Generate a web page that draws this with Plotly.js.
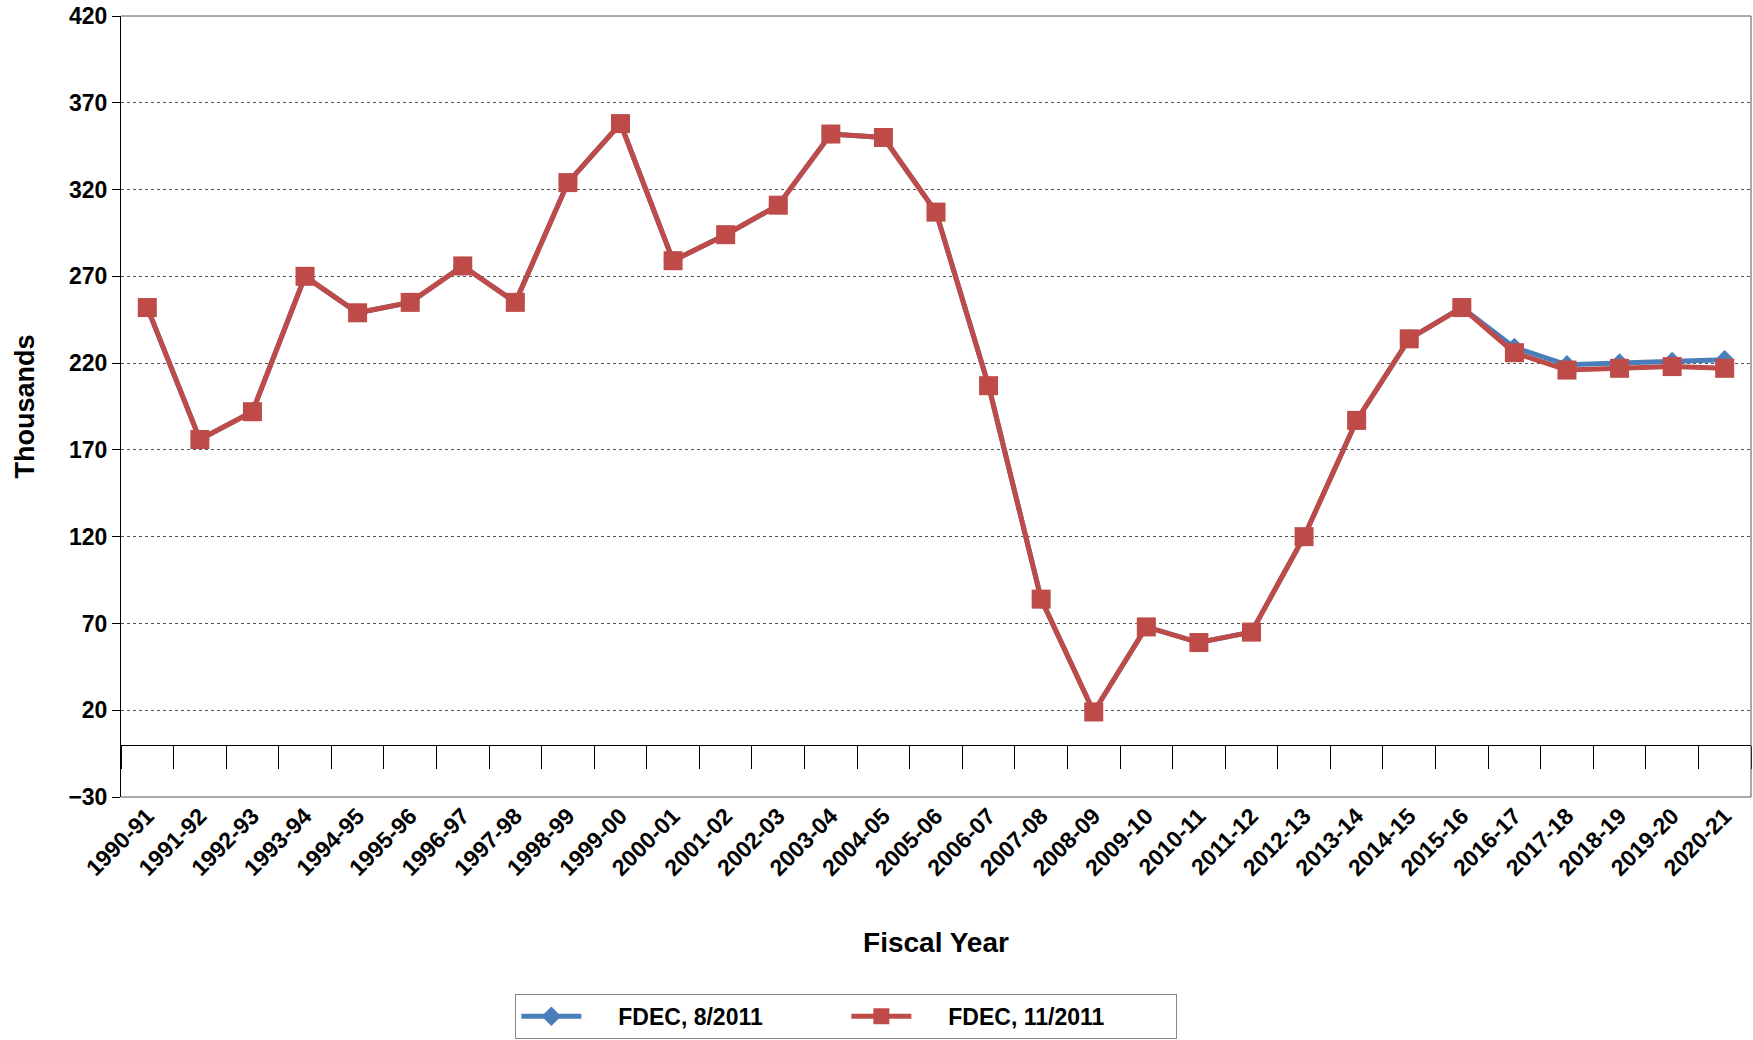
<!DOCTYPE html>
<html>
<head>
<meta charset="utf-8">
<script src="https://cdn.plot.ly/plotly-3.0.1.min.js"></script>
<style>body{margin:0;background:#fff}</style>
</head>
<body>
<div id="plot" style="width:1753px;height:1040px"></div>
<script>
var years = ['1990-91','1991-92','1992-93','1993-94','1994-95','1995-96','1996-97','1997-98','1998-99','1999-00',
  '2000-01','2001-02','2002-03','2003-04','2004-05','2005-06','2006-07','2007-08','2008-09','2009-10',
  '2010-11','2011-12','2012-13','2013-14','2014-15','2015-16','2016-17','2017-18','2018-19','2019-20','2020-21']

var fdec_aug = [252, 176, 192, 270, 249, 255, 276, 255, 324, 358,
  279, 294, 311, 352, 350, 307, 207, 84, 19, 68,
  59, 65, 120, 187, 234, 252, 229, 219, 220, 221, 222]

var fdec_nov = [252, 176, 192, 270, 249, 255, 276, 255, 324, 358,
  279, 294, 311, 352, 350, 307, 207, 84, 19, 68,
  59, 65, 120, 187, 234, 252, 226, 216, 217, 218, 217]

var font = {family: 'Liberation Sans, Arial, sans-serif', size: 23, color: '#000'}

var data = [
  {name: '\u00a0\u00a0\u00a0\u00a0\u00a0<b>FDEC, 8/2011</b>', x: years, y: fdec_aug, type: 'scatter', mode: 'lines+markers',
   line: {color: '#4a7ebb', width: 5}, marker: {symbol: 'diamond', size: 15, color: '#4a7ebb'}},
  {name: '\u00a0\u00a0\u00a0\u00a0\u00a0<b>FDEC, 11/2011</b>', x: years, y: fdec_nov, type: 'scatter', mode: 'lines+markers',
   line: {color: '#be4b48', width: 5}, marker: {symbol: 'square', size: 19, color: '#be4b48'}}
]

// dummy trace so xaxis2 renders
data.push({x: years, y: fdec_nov, xaxis: 'x2', type: 'scatter', mode: 'none', showlegend: false, hoverinfo: 'skip'})

var layout = {
  width: 1753, height: 1040,
  margin: {l: 121, r: 2, t: 16, b: 242},
  font: font,
  showlegend: true,
  legend: {orientation: 'h', x: 0.445, y: -0.279, xanchor: 'center', yanchor: 'middle',
    bordercolor: '#888', borderwidth: 1, font: {size: 23}, entrywidth: 255, itemwidth: 60},
  xaxis: {type: 'category', categoryarray: years, range: [-0.5, 30.5], tickangle: -45,
    tickprefix: '<b>', ticksuffix: '</b>', ticks: '', showgrid: false, zeroline: false,
    showline: false, title: {text: '<b>Fiscal Year</b>', standoff: 52}},
  xaxis2: {type: 'category', categoryarray: years, range: [-0.5, 30.5], overlaying: 'x',
    anchor: 'free', position: 0.067, showticklabels: false, ticks: 'outside', tickson: 'boundaries',
    ticklen: 23, tickcolor: '#000', showline: true, linecolor: '#000', showgrid: false, zeroline: false},
  yaxis: {range: [-30, 420], tick0: 20, dtick: 50, tickprefix: '<b>', ticksuffix: '</b>',
    showgrid: true, gridcolor: '#555', griddash: 'dot', gridwidth: 1, zeroline: false,
    showline: true, linecolor: '#000', ticks: 'outside', ticklen: 8, tickcolor: '#000',
    title: {text: '<b>Thousands</b>', font: {size: 27}, standoff: 25}},
  shapes: [
    {type: 'line', xref: 'paper', yref: 'paper', x0: 0, x1: 1, y0: 1, y1: 1, line: {color: '#555', width: 1}},
    {type: 'line', xref: 'paper', yref: 'paper', x0: 1, x1: 1, y0: 0, y1: 1, line: {color: '#555', width: 1}},
    {type: 'line', xref: 'paper', yref: 'paper', x0: 0, x1: 1, y0: 0, y1: 0, line: {color: '#555', width: 1}}
  ]
}

Plotly.newPlot('plot', data, layout, {displayModeBar: false})
</script>
</body>
</html>
